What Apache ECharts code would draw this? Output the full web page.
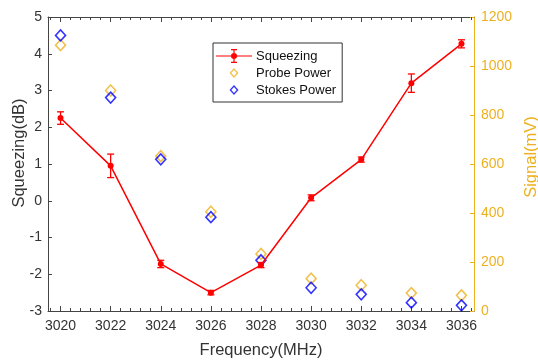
<!DOCTYPE html>
<html><head><meta charset="utf-8">
<script src="https://cdn.jsdelivr.net/npm/echarts@6/dist/echarts.min.js"></script>
<style>html,body{margin:0;padding:0;background:#fff}#c{width:538px;height:364px}</style>
</head><body><div id="c"></div>
<script>
var freqs = [3020, 3022, 3024, 3026, 3028, 3030, 3032, 3034, 3036];
var squeezing = [2.25, 0.95, -1.72, -2.5, -1.75, 0.08, 1.12, 3.2, 4.27];
var squeezingErr = [0.17, 0.32, 0.1, 0.06, 0.07, 0.08, 0.07, 0.25, 0.11];
var probePower = [1085, 900, 632, 405, 233, 132, 105, 73, 64];
var stokesPower = [1125, 871, 619, 383, 207, 95, 68, 34, 23];
var xTickLabels = [3020, 3022, 3024, 3026, 3028, 3030, 3032, 3034, 3036];
var yLeftTicks = [-3, -2, -1, 0, 1, 2, 3, 4, 5];
var yRightTicks = [0, 200, 400, 600, 800, 1000, 1200];

var minorTicks = [];
for (var v = 3019.6; v < 3036.5; v += 0.4) minorTicks.push(Math.round(v * 10) / 10);

var FONT = 'Liberation Sans';
var gold = '#EDB120';
var red = '#FF0000';
var blue = '#0000FF';
var axisGrey = '#444';

var sqIcon = 'path://M0 6.4H36V7.6H0Z M17.4 0H18.6V14H17.4Z M15 0H21V1.2H15Z M15 12.8H21V14H15Z M15 7A3 3 0 1 1 21 7A3 3 0 1 1 15 7Z';
var dmIcon = 'path://M0 0L0.01 0L0 0.01Z M36 14L35.99 14L36 13.99Z M18 2L22.5 7L18 12L13.5 7Z M18 3.9L15.3 7L18 10.1L20.7 7Z';

var chart = echarts.init(document.getElementById('c'));
var gridRect = {left: 48, right: 64, top: 17, bottom: 53, show: false, containLabel: false, outerBoundsMode: 'none'};
var baseX = {type: 'value', min: 3019.5, max: 3036.5, splitLine: {show: false}};
chart.setOption({
  animation: false,
  textStyle: {fontFamily: FONT},
  grid: [Object.assign({}, gridRect), Object.assign({}, gridRect)],
  legend: {
    orient: 'vertical', left: 213, top: 43,
    backgroundColor: '#fff', borderColor: '#333', borderWidth: 1,
    padding: [6, 6, 5, 3], itemGap: 3, itemWidth: 36, itemHeight: 14,
    textStyle: {fontFamily: FONT, fontSize: 13, color: '#111', padding: [0, 0, 0, -1]},
    data: [
      {name: 'Squeezing', icon: sqIcon, itemStyle: {color: red, borderWidth: 0}},
      {name: 'Probe Power', icon: dmIcon, itemStyle: {color: gold, borderWidth: 0}},
      {name: 'Stokes Power', icon: dmIcon, itemStyle: {color: blue, borderWidth: 0}}
    ]
  },
  xAxis: [
    Object.assign({}, baseX, {
      gridIndex: 0, position: 'bottom',
      name: 'Frequency(MHz)', nameLocation: 'middle', nameGap: 31, nameMoveOverlap: false,
      nameTextStyle: {fontFamily: FONT, fontSize: 16.5, color: '#333'},
      axisLine: {onZero: false, lineStyle: {color: axisGrey, width: 1}},
      axisTick: {inside: true, length: 5, customValues: xTickLabels, lineStyle: {color: axisGrey}},
      axisLabel: {customValues: xTickLabels, margin: 8, fontFamily: FONT, fontSize: 14, color: '#333', formatter: function (v) { return String(v); }}
    }),
    Object.assign({}, baseX, {
      gridIndex: 0, position: 'top',
      axisLine: {onZero: false, lineStyle: {color: axisGrey, width: 1}},
      axisTick: {inside: true, length: 5, customValues: xTickLabels, lineStyle: {color: axisGrey}},
      axisLabel: {show: false}
    }),
    Object.assign({}, baseX, {
      gridIndex: 1, position: 'bottom',
      axisLine: {show: false, onZero: false},
      axisTick: {inside: true, length: 3, customValues: minorTicks, lineStyle: {color: axisGrey}},
      axisLabel: {show: false}
    }),
    Object.assign({}, baseX, {
      gridIndex: 1, position: 'top',
      axisLine: {show: false, onZero: false},
      axisTick: {inside: true, length: 3, customValues: minorTicks, lineStyle: {color: axisGrey}},
      axisLabel: {show: false}
    })
  ],
  yAxis: [
    {
      gridIndex: 0, type: 'value', min: yLeftTicks[0], max: yLeftTicks[yLeftTicks.length - 1], interval: 1, position: 'left',
      name: 'Squeezing(dB)', nameLocation: 'middle', nameGap: 20, nameMoveOverlap: false,
      nameTextStyle: {fontFamily: FONT, fontSize: 16.5, color: '#333', padding: [0, 0, 0, 22]},
      axisLine: {show: true, onZero: false, lineStyle: {color: axisGrey, width: 1}},
      axisTick: {show: true, inside: true, length: 4, lineStyle: {color: axisGrey}},
      axisLabel: {margin: 6, fontFamily: FONT, fontSize: 14, color: '#333'},
      splitLine: {show: false}
    },
    {
      gridIndex: 0, type: 'value', min: yRightTicks[0], max: yRightTicks[yRightTicks.length - 1], interval: 200, position: 'right',
      name: 'Signal(mV)', nameLocation: 'middle', nameGap: 49, nameMoveOverlap: false,
      nameTextStyle: {fontFamily: FONT, fontSize: 16.5, color: gold, padding: [0, 0, 0, 14]},
      axisLine: {show: true, onZero: false, lineStyle: {color: gold, width: 1}},
      axisTick: {show: true, inside: true, length: 4, lineStyle: {color: gold}},
      axisLabel: {margin: 7, fontFamily: FONT, fontSize: 14, color: gold, formatter: function (v) { return String(v); }},
      splitLine: {show: false}
    },
    {
      gridIndex: 1, type: 'value', min: 0, max: 1, show: false
    }
  ],
  series: [
    {
      name: 'Probe Power', type: 'scatter', xAxisIndex: 0, yAxisIndex: 1,
      symbol: 'diamond', symbolSize: [10, 11],
      itemStyle: {color: 'rgba(255,255,255,0)', borderColor: gold, borderWidth: 1.6},
      data: freqs.map(function (f, i) { return [f, probePower[i]]; }), z: 2
    },
    {
      name: 'Stokes Power', type: 'scatter', xAxisIndex: 0, yAxisIndex: 1,
      symbol: 'diamond', symbolSize: [10, 11],
      itemStyle: {color: 'rgba(255,255,255,0)', borderColor: blue, borderWidth: 1.6},
      data: freqs.map(function (f, i) { return [f, stokesPower[i]]; }), z: 3
    },
    {
      name: 'Squeezing', type: 'line', xAxisIndex: 0, yAxisIndex: 0,
      symbol: 'circle', symbolSize: 6,
      lineStyle: {color: red, width: 1.5}, itemStyle: {color: red},
      data: freqs.map(function (f, i) { return [f, squeezing[i]]; }), z: 4
    },
    {
      name: 'SqueezingErr', type: 'custom', xAxisIndex: 0, yAxisIndex: 0,
      data: freqs.map(function (f, i) { return [f, squeezing[i] - squeezingErr[i], squeezing[i] + squeezingErr[i]]; }),
      renderItem: function (params, api) {
        var lo = api.coord([api.value(0), api.value(1)]);
        var hi = api.coord([api.value(0), api.value(2)]);
        var w = 3.5;
        var st = {stroke: red, lineWidth: 1.3};
        return {type: 'group', children: [
          {type: 'line', shape: {x1: lo[0], y1: lo[1], x2: hi[0], y2: hi[1]}, style: st},
          {type: 'line', shape: {x1: lo[0] - w, y1: lo[1], x2: lo[0] + w, y2: lo[1]}, style: st},
          {type: 'line', shape: {x1: hi[0] - w, y1: hi[1], x2: hi[0] + w, y2: hi[1]}, style: st}
        ]};
      },
      z: 5
    }
  ]
});
</script>
</body></html>
